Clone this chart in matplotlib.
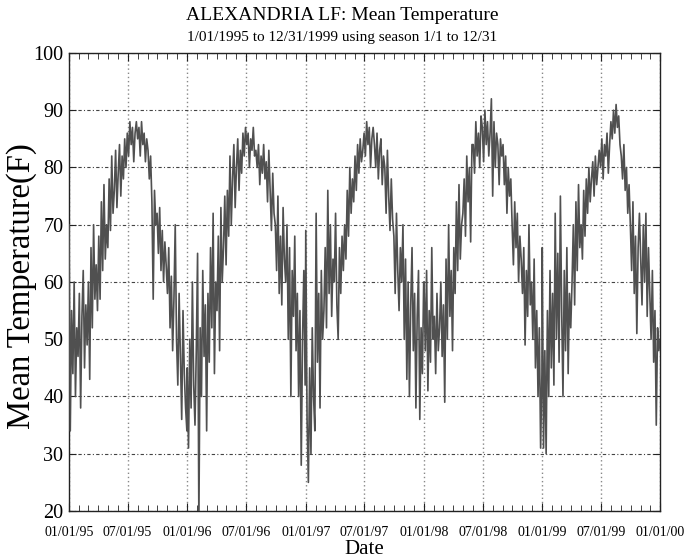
import pandas as pd
import matplotlib
matplotlib.use('Agg')
import matplotlib.pyplot as plt
import matplotlib.dates as mdates

# Mean temperature (F), one reading every 4 days
temp_1995 = [70, 34, 55, 44, 60, 40, 52, 47,
             58, 38, 54, 62, 45, 56, 49,
             60, 43, 66, 52, 70, 57, 63, 55,
             68, 57, 74, 62, 77, 64, 70,
             66, 78, 69, 82, 72, 76, 83, 73,
             79, 84, 75, 82, 78, 85, 80,
             86, 82, 88, 84, 87, 81, 86, 88,
             85, 87, 82, 88, 84, 86, 81, 85,
             83, 78, 82, 74, 57, 76, 70,
             72, 65, 73, 62, 69, 60, 67, 63,
             58, 66, 52, 61, 48, 57, 70,
             50, 42, 58, 47, 36, 55, 44, 38, 34]
temp_1996 = [45, 31, 50, 38, 60, 42, 35, 48,
             65, 18, 52, 40, 62, 47, 56,
             34, 58, 46, 66, 52, 72, 44, 60,
             55, 68, 48, 73, 60, 66, 75,
             63, 76, 68, 82, 70, 78, 84, 73,
             80, 85, 76, 83, 79, 86, 82,
             87, 84, 86, 80, 85, 83, 87, 82,
             83, 80, 84, 77, 82, 79, 84, 78,
             81, 74, 83, 76, 69, 79, 72,
             70, 62, 75, 58, 68, 56, 73, 64,
             60, 70, 50, 66, 40, 62, 54,
             68, 48, 58, 40, 55, 28, 50, 62, 42]
temp_1997 = [69, 36, 25, 45, 30, 52, 40, 34,
             72, 46, 58, 38, 62, 50, 55,
             66, 52, 76, 58, 70, 54, 64, 60,
             72, 56, 50, 66, 58, 68, 62,
             70, 64, 76, 68, 80, 72, 78, 74,
             82, 76, 84, 79, 85, 81, 83,
             86, 82, 88, 84, 87, 80, 85, 87,
             84, 80, 86, 78, 83, 85, 77, 82,
             80, 72, 83, 75, 69, 78, 71,
             68, 58, 72, 62, 55, 66, 60, 70,
             50, 64, 43, 60, 40, 56, 66,
             48, 58, 38, 54, 62, 36, 52, 44, 60]
temp_1998 = [60, 48, 62, 41, 55, 46, 66, 50,
             54, 44, 58, 48, 52, 60, 47,
             56, 39, 64, 50, 70, 54, 62, 48,
             66, 58, 74, 62, 77, 64, 70,
             72, 78, 68, 82, 74, 80, 67, 84,
             84, 79, 88, 82, 86, 80, 89,
             87, 81, 90, 84, 88, 82, 86, 92,
             75, 88, 80, 86, 84, 77, 85, 82,
             84, 77, 82, 72, 80, 75, 78,
             70, 63, 74, 66, 72, 60, 68, 64,
             58, 66, 49, 62, 54, 70, 56,
             60, 50, 64, 45, 55, 40, 52, 31, 44]
temp_1999 = [66, 31, 48, 30, 55, 40, 62, 45,
             58, 42, 72, 50, 65, 46, 75,
             55, 40, 62, 48, 66, 44, 58, 52,
             60, 70, 56, 74, 62, 77, 66,
             70, 64, 76, 68, 78, 72, 80, 74,
             78, 81, 75, 82, 77, 80, 83,
             80, 85, 78, 84, 82, 86, 79, 84,
             88, 85, 90, 86, 91, 87, 89, 84,
             82, 78, 84, 76, 80, 72, 77,
             70, 62, 74, 58, 68, 51, 66, 72,
             64, 56, 70, 60, 72, 54, 66,
             58, 50, 62, 46, 55, 35, 52, 48, 50]

years = [1995, 1996, 1997, 1998, 1999]
series = [temp_1995, temp_1996, temp_1997, temp_1998, temp_1999]

dates = []
temps = []
for year, vals in zip(years, series):
    d = pd.date_range(f'{year}-01-01', f'{year}-12-31', freq='4D')
    dates.extend(d[:len(vals)])
    temps.extend(vals)

plt.rcParams['font.family'] = ['Liberation Serif', 'DejaVu Serif']

fig = plt.figure(figsize=(6.85, 5.60), dpi=100)
ax = fig.add_axes([0.1007, 0.0875, 0.8635, 0.8179])

ax.plot(dates, temps, color='#505050', linewidth=1.2, zorder=3)

ax.set_xlim(pd.Timestamp('1995-01-01'), pd.Timestamp('2000-01-01'))
ax.set_ylim(20, 100)
ax.set_yticks(range(20, 101, 10))
ax.xaxis.set_major_locator(mdates.MonthLocator(bymonth=[1, 7]))
ax.xaxis.set_major_formatter(mdates.DateFormatter('%m/%d/%y'))
ax.xaxis.set_minor_locator(mdates.MonthLocator())

ax.tick_params(axis='both', which='both', direction='in', top=True, right=True,
               color='#222222')
ax.tick_params(axis='x', which='major', length=6, labelsize=10, pad=11)
ax.tick_params(axis='x', which='minor', length=4)
ax.tick_params(axis='y', which='major', length=5, labelsize=14.5, pad=4)

ax.yaxis.grid(True, color='#444444', linestyle=(0, (3, 2, 1, 2)), linewidth=0.8)
ax.xaxis.grid(True, which='major', color='#888888', linestyle=(0, (1, 2)), linewidth=1.0)
ax.set_axisbelow(True)
for sp in ax.spines.values():
    sp.set_color('#222222')
    sp.set_linewidth(1.0)

ax.set_xlabel('Date', fontsize=15)
ax.xaxis.set_label_coords(0.5, -0.064)
ax.set_ylabel('Mean Temperature(F)', fontsize=23.5)
ax.yaxis.set_label_coords(-0.054, 0.492)

fig.text(0.5, 0.972, 'ALEXANDRIA LF: Mean Temperature', ha='center', va='center',
         fontsize=14)
fig.text(0.5, 0.933, '1/01/1995 to 12/31/1999 using season 1/1 to 12/31',
         ha='center', va='center', fontsize=11)

fig.savefig('out.png', dpi=100)
